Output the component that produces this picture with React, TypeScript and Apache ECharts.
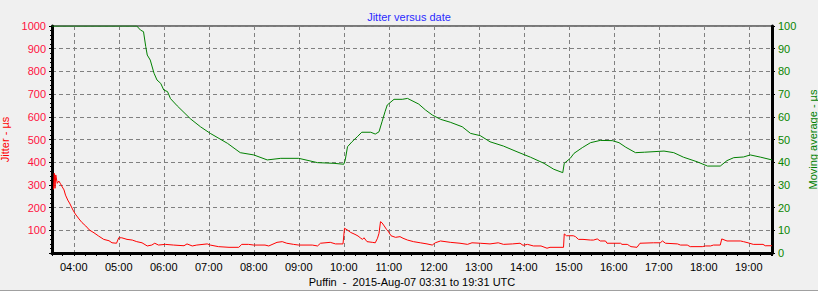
import { useEffect, useRef } from "react";
import * as echarts from "echarts";

// Jitter (left axis, µs)
const jitterTimes = [
  "03:33", "03:34", "03:35", "03:36", "03:38", "03:40", "03:42", "03:44", "03:47", "03:49",
  "03:52", "03:55", "03:59", "04:02", "04:07", "04:11", "04:16", "04:21", "04:27", "04:33",
  "04:40", "04:47", "04:51", "04:57", "05:00", "05:04", "05:11", "05:18", "05:24", "05:31",
  "05:38", "05:44", "05:48", "05:53", "06:02", "06:13", "06:27", "06:31", "06:38", "06:44",
  "06:58", "07:02", "07:13", "07:27", "07:40", "07:44", "07:53", "08:00", "08:15", "08:20",
  "08:31", "08:38", "08:44", "08:53", "09:00", "09:15", "09:18", "09:25", "09:29", "09:42",
  "09:49", "09:59", "10:01", "10:05", "10:09", "10:15", "10:19", "10:22", "10:25", "10:27",
  "10:31", "10:38", "10:42", "10:45", "10:47", "10:49", "10:51", "10:54", "10:57", "10:59",
  "11:03", "11:09", "11:15", "11:19", "11:25", "11:33", "11:42", "11:51", "11:58", "12:02",
  "12:09", "12:22", "12:35", "12:45", "12:51", "13:02", "13:15", "13:26", "13:33", "13:45",
  "13:55", "13:59", "14:05", "14:13", "14:23", "14:31", "14:35", "14:53", "14:54", "14:57",
  "15:06", "15:09", "15:13", "15:19", "15:29", "15:33", "15:38", "15:42", "15:49", "15:51",
  "16:09", "16:11", "16:18", "16:21", "16:23", "16:31", "16:35", "16:53", "17:02", "17:05",
  "17:09", "17:25", "17:29", "17:38", "17:42", "17:58", "18:02", "18:09", "18:13", "18:22",
  "18:24", "18:31", "18:49", "18:53", "18:59", "19:06", "19:19", "19:22", "19:31",
];
const jitterValues = [
  280, 351, 285, 344, 307, 317, 307, 295, 278, 255,
  233, 216, 189, 172, 150, 134, 119, 101, 89, 75,
  60, 54, 45, 43, 67, 67, 60, 57, 50, 45,
  31, 35, 43, 35, 38, 35, 32, 40, 31, 35,
  40, 35, 28, 25, 25, 38, 38, 35, 35, 31,
  47, 50, 43, 38, 35, 35, 35, 31, 43, 47,
  40, 40, 109, 101, 91, 82, 75, 67, 60, 67,
  50, 47, 45, 65, 87, 138, 133, 119, 104, 97,
  76, 69, 72, 65, 57, 50, 45, 40, 35, 45,
  53, 47, 43, 38, 45, 43, 40, 45, 38, 40,
  43, 34, 38, 31, 31, 21, 25, 25, 84, 76,
  76, 72, 60, 60, 57, 57, 62, 53, 53, 43,
  43, 38, 38, 32, 28, 25, 43, 45, 45, 53,
  43, 40, 35, 35, 28, 28, 31, 31, 35, 35,
  62, 53, 53, 50, 45, 38, 38, 32, 32,
];

// Moving average (right axis, µs)
const avgTimes = [
  "03:31", "05:24", "05:29", "05:33", "05:36", "05:38", "05:42", "05:47", "05:51", "05:56",
  "06:00", "06:05", "06:09", "06:18", "06:36", "06:49", "07:02", "07:25", "07:42", "08:00",
  "08:18", "08:36", "09:00", "09:25", "09:47", "10:00", "10:02", "10:05", "10:11", "10:18",
  "10:24", "10:36", "10:42", "10:47", "10:51", "10:55", "10:58", "11:07", "11:18", "11:25",
  "11:31", "11:40", "11:49", "11:58", "12:09", "12:22", "12:38", "12:49", "13:02", "13:15",
  "13:33", "13:51", "14:09", "14:27", "14:40", "14:52", "14:54", "15:02", "15:07", "15:18",
  "15:29", "15:42", "15:58", "16:07", "16:16", "16:29", "16:41", "17:07", "17:20", "17:33",
  "17:51", "18:05", "18:22", "18:31", "18:40", "18:53", "19:02", "19:16", "19:31",
];
const avgValues = [
  100, 100, 98.2, 97.5, 90.9, 87.2, 85, 79.2, 76.2, 74.7,
  71.8, 71.1, 68, 64.8, 59, 55.6, 52.7, 48.3, 44.2, 43.2,
  41, 41.7, 41.7, 39.8, 39.5, 39.1, 41, 46.8, 49, 51.2,
  53.2, 53.2, 52.4, 53.4, 57.8, 62.2, 65.2, 67.7, 67.7, 68.1,
  67.1, 65.6, 63, 60.8, 58.9, 57.6, 55.6, 52.7, 51.7, 49,
  47.1, 44.6, 42.2, 39.5, 36.9, 35.4, 39.5, 41.7, 43.9, 46.4,
  48.6, 49.6, 49.5, 48.6, 46.6, 44.2, 44.4, 44.9, 44.2, 42.2,
  40.2, 38.3, 38.3, 40.7, 42, 42.3, 43.2, 42.2, 41,
];

const FONT = "Liberation Sans";
const START = 3 + 31 / 60;
const END = 19 + 31 / 60;

const toHours = (s: string) => {
  const [h, m] = s.split(":").map(Number);
  return h + m / 60;
};

const pad = (n: number) => (n < 10 ? "0" + n : "" + n);

export default function App() {
  const ref = useRef<HTMLDivElement>(null);
  useEffect(() => {
    const chart = echarts.init(ref.current!, null, { renderer: "svg" });
    const dash = { color: "#808080", width: 1, type: [4, 3] as number[] };
    chart.setOption({
      animation: false,
      backgroundColor: "#f0f0f0",
      textStyle: { fontFamily: FONT },
      title: {
        text: "Jitter versus date",
        left: "center",
        top: 6,
        textStyle: { color: "#2a2aff", fontSize: 11, fontWeight: "normal", fontFamily: FONT },
      },
      grid: {
        left: 52,
        right: 46,
        top: 26,
        bottom: 39,
        containLabel: false,
        outerBoundsMode: "none",
        show: true,
        borderColor: "#000",
        borderWidth: 1,
        backgroundColor: "transparent",
      },
      xAxis: {
        type: "value",
        min: START,
        max: END,
        splitNumber: 16,
        minInterval: 1,
        maxInterval: 1,
        axisLine: { show: true, onZero: false, lineStyle: { color: "#000", width: 3 } },
        axisTick: { show: true, length: 3, lineStyle: { color: "#000" } },
        minorTick: { show: true, splitNumber: 4, length: 3, lineStyle: { color: "#000" } },
        axisLabel: {
          color: "#000",
          fontSize: 11,
          fontFamily: FONT,
          margin: 8,
          formatter: (v: number) => {
            if (Math.abs(v - Math.round(v)) > 1e-6) return "";
            return pad(Math.round(v)) + ":00";
          },
        },
        splitLine: { show: true, lineStyle: dash },
        name: "Puffin  -  2015-Aug-07 03:31 to 19:31 UTC",
        nameLocation: "middle",
        nameGap: 22,
        nameTextStyle: { color: "#000", fontSize: 11, fontFamily: FONT },
      },
      yAxis: [
        {
          type: "value",
          position: "left",
          min: 0,
          max: 1000,
          interval: 100,
          axisLine: { show: true, lineStyle: { color: "#000", width: 3 } },
          axisTick: { show: true, length: 3, lineStyle: { color: "#000" } },
          minorTick: { show: true, splitNumber: 5, length: 2, lineStyle: { color: "#000" } },
          axisLabel: {
            color: "#ff1040",
            fontSize: 11,
            fontFamily: FONT,
            margin: 6,
            showMinLabel: false,
            formatter: (v: number) => String(v),
          },
          splitLine: { show: true, lineStyle: dash },
          name: "Jitter - µs",
          nameLocation: "middle",
          nameGap: 31,
          nameRotate: 90,
          nameTextStyle: { color: "#ff0000", fontSize: 11, fontFamily: FONT },
        },
        {
          type: "value",
          position: "right",
          min: 0,
          max: 100,
          interval: 10,
          axisLine: { show: true, lineStyle: { color: "#000", width: 3 } },
          axisTick: { show: true, length: 3, lineStyle: { color: "#000" } },
          minorTick: { show: true, splitNumber: 5, length: 2, lineStyle: { color: "#000" } },
          axisLabel: {
            color: "#0a8500",
            fontSize: 11,
            fontFamily: FONT,
            margin: 6,
            formatter: (v: number) => String(v),
          },
          splitLine: { show: false },
          name: "Moving average - µs",
          nameLocation: "middle",
          nameGap: 25,
          nameRotate: 90,
          nameTextStyle: { color: "#008000", fontSize: 11, fontFamily: FONT },
        },
      ],
      graphic: [
        {
          type: "line",
          shape: { x1: 0, y1: 290.5, x2: 818, y2: 290.5 },
          style: { stroke: "#a0a0a0", lineWidth: 1 },
          silent: true,
        },
        {
          type: "line",
          shape: { x1: 0, y1: 291.5, x2: 818, y2: 291.5 },
          style: { stroke: "#ffffff", lineWidth: 1 },
          silent: true,
        },
      ],
      series: [
        {
          type: "line",
          name: "Jitter",
          yAxisIndex: 0,
          symbol: "none",
          data: jitterTimes.map((t, i) => [toHours(t), jitterValues[i]]),
          lineStyle: { color: "#ff0000", width: 1 },
          itemStyle: { color: "#ff0000" },
        },
        {
          type: "line",
          name: "Moving average",
          yAxisIndex: 1,
          symbol: "none",
          data: avgTimes.map((t, i) => [toHours(t), avgValues[i]]),
          lineStyle: { color: "#008000", width: 1 },
          itemStyle: { color: "#008000" },
        },
      ],
    });
    return () => chart.dispose();
  }, []);
  return (
    <div
      ref={ref}
      style={{ position: "fixed", left: 0, top: 0, width: 818, height: 292 }}
    />
  );
}
